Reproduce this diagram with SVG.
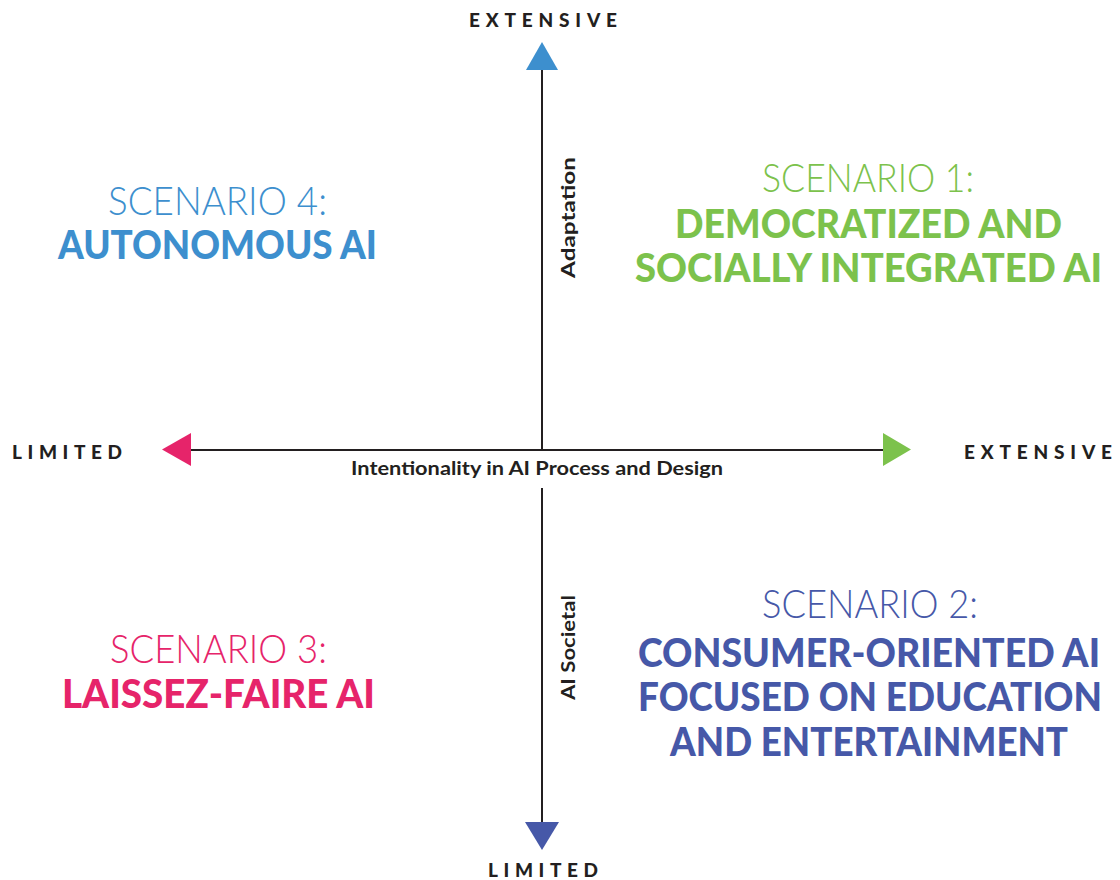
<svg xmlns="http://www.w3.org/2000/svg" width="1120" height="880" viewBox="0 0 1120 880">
<style>
.axis{stroke:#231f20;stroke-width:2;fill:none}
.lbl{font-family:Lato,"Liberation Sans",sans-serif;font-weight:900;fill:#231f20;font-size:19px}
.cap{font-family:Lato,"Liberation Sans",sans-serif;font-weight:700;fill:#231f20;font-size:18px}
.light{font-family:Lato,"Liberation Sans",sans-serif;font-weight:300;font-size:39px}
.bold{font-family:Lato,"Liberation Sans",sans-serif;font-weight:900;font-size:39px}
.blue{fill:#3d8fce}.green{fill:#7cc24c}.pink{fill:#e6246a}.navy{fill:#4658a8}
</style>
<rect width="1120" height="880" fill="#ffffff"/>
<g id="connectors">
<line class="axis" x1="191" y1="450" x2="884" y2="450"/>
<line class="axis" x1="542" y1="69" x2="542" y2="450"/>
<line class="axis" x1="542" y1="488" x2="542" y2="823"/>
<polygon class="blue" points="542,42 558,70 526,70"/>
<polygon class="pink" points="162,449.5 191,433 191,466"/>
<polygon class="green" points="911,449.5 883,433 883,466"/>
<polygon class="navy" points="542,850 525,822 559,822"/>
</g>
<g id="axis-labels">
<text class="lbl" x="469" y="27" textLength="153" lengthAdjust="spacing" letter-spacing="5">EXTENSIVE</text>
<text class="lbl" x="12" y="459" textLength="115" lengthAdjust="spacing" letter-spacing="5">LIMITED</text>
<text class="lbl" x="964" y="459" textLength="153" lengthAdjust="spacing" letter-spacing="5">EXTENSIVE</text>
<text class="lbl" x="488" y="877" textLength="115" lengthAdjust="spacing" letter-spacing="5">LIMITED</text>
<text class="cap" x="351" y="475" textLength="372" lengthAdjust="spacingAndGlyphs">Intentionality in AI Process and Design</text>
<text class="cap" transform="translate(575,278) rotate(-90)" x="0" y="0" textLength="121" lengthAdjust="spacingAndGlyphs">Adaptation</text>
<text class="cap" transform="translate(575,700) rotate(-90)" x="0" y="0" textLength="105" lengthAdjust="spacingAndGlyphs">AI Societal</text>
</g>
<g id="scenario-4">
<text class="light blue" x="108" y="215" textLength="219" lengthAdjust="spacingAndGlyphs">SCENARIO 4:</text>
<text class="bold blue" x="58" y="259" textLength="319" lengthAdjust="spacingAndGlyphs">AUTONOMOUS AI</text>
</g>
<g id="scenario-1">
<text class="light green" x="762" y="192" textLength="212" lengthAdjust="spacingAndGlyphs">SCENARIO 1:</text>
<text class="bold green" x="675" y="238" textLength="387" lengthAdjust="spacingAndGlyphs">DEMOCRATIZED AND</text>
<text class="bold green" x="635" y="282" textLength="467" lengthAdjust="spacingAndGlyphs">SOCIALLY INTEGRATED AI</text>
</g>
<g id="scenario-3">
<text class="light pink" x="110" y="663" textLength="217" lengthAdjust="spacingAndGlyphs">SCENARIO 3:</text>
<text class="bold pink" x="62" y="708" textLength="313" lengthAdjust="spacingAndGlyphs">LAISSEZ-FAIRE AI</text>
</g>
<g id="scenario-2">
<text class="light navy" x="762" y="618" textLength="216" lengthAdjust="spacingAndGlyphs">SCENARIO 2:</text>
<text class="bold navy" x="638" y="667" textLength="462" lengthAdjust="spacingAndGlyphs">CONSUMER-ORIENTED AI</text>
<text class="bold navy" x="638" y="711" textLength="464" lengthAdjust="spacingAndGlyphs">FOCUSED ON EDUCATION</text>
<text class="bold navy" x="670" y="756" textLength="398" lengthAdjust="spacingAndGlyphs">AND ENTERTAINMENT</text>
</g>
</svg>
